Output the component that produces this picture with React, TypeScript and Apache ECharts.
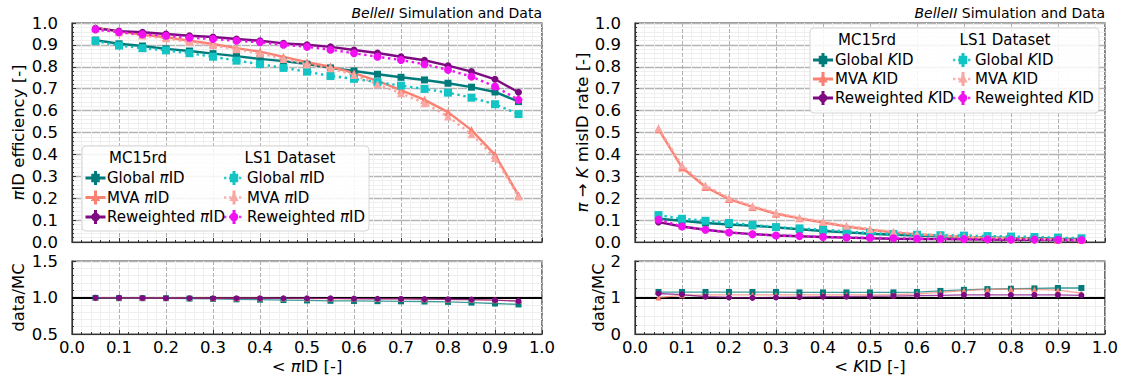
import React, { useEffect, useRef } from "react";
import * as echarts from "echarts";

const FONT = "DejaVu Sans";

const xs = [0.05, 0.1, 0.15, 0.2, 0.25, 0.3, 0.35, 0.4, 0.45, 0.5, 0.55, 0.6, 0.65, 0.7, 0.75, 0.8, 0.85, 0.9, 0.95];
const xTicks = [0, 0.1, 0.2, 0.3, 0.4, 0.5, 0.6, 0.7, 0.8, 0.9, 1.0];

// pi ID efficiency (left panel)
const mcGlobalPi = [0.922, 0.905, 0.895, 0.882, 0.872, 0.86, 0.849, 0.836, 0.826, 0.812, 0.795, 0.781, 0.766, 0.752, 0.74, 0.725, 0.707, 0.685, 0.641];
const dataGlobalPi = [0.918, 0.897, 0.885, 0.875, 0.862, 0.846, 0.828, 0.812, 0.795, 0.778, 0.758, 0.745, 0.73, 0.714, 0.699, 0.682, 0.659, 0.629, 0.584];
const mcMvaPi = [0.979, 0.962, 0.946, 0.935, 0.919, 0.904, 0.885, 0.869, 0.845, 0.821, 0.801, 0.771, 0.736, 0.693, 0.649, 0.593, 0.511, 0.398, 0.213];
const dataMvaPi = [0.976, 0.958, 0.943, 0.93, 0.913, 0.898, 0.88, 0.861, 0.836, 0.81, 0.793, 0.763, 0.72, 0.679, 0.634, 0.573, 0.492, 0.383, 0.208];
const mcRwPi = [0.976, 0.963, 0.958, 0.95, 0.942, 0.936, 0.927, 0.919, 0.907, 0.901, 0.891, 0.877, 0.863, 0.846, 0.83, 0.805, 0.778, 0.743, 0.684];
const dataRwPi = [0.97, 0.958, 0.948, 0.942, 0.933, 0.927, 0.919, 0.912, 0.901, 0.891, 0.878, 0.862, 0.846, 0.831, 0.812, 0.786, 0.755, 0.71, 0.649];

// pi -> K misID rate (right panel)
const mcGlobalK = [0.106, 0.097, 0.087, 0.08, 0.074, 0.067, 0.058, 0.05, 0.044, 0.038, 0.033, 0.029, 0.026, 0.023, 0.021, 0.018, 0.017, 0.015, 0.014];
const dataGlobalK = [0.123, 0.106, 0.097, 0.087, 0.078, 0.068, 0.062, 0.056, 0.048, 0.041, 0.036, 0.033, 0.031, 0.029, 0.027, 0.025, 0.023, 0.02, 0.017];
const mcMvaK = [0.515, 0.34, 0.251, 0.196, 0.16, 0.129, 0.108, 0.089, 0.071, 0.056, 0.044, 0.035, 0.029, 0.023, 0.018, 0.015, 0.014, 0.011, 0.009];
const dataMvaK = [0.52, 0.35, 0.258, 0.201, 0.164, 0.133, 0.111, 0.092, 0.074, 0.059, 0.047, 0.037, 0.03, 0.024, 0.019, 0.016, 0.014, 0.011, 0.009];
const mcRwK = [0.091, 0.071, 0.056, 0.044, 0.036, 0.03, 0.026, 0.023, 0.02, 0.017, 0.015, 0.014, 0.013, 0.012, 0.011, 0.01, 0.01, 0.009, 0.008];
const dataRwK = [0.102, 0.071, 0.056, 0.043, 0.035, 0.03, 0.027, 0.023, 0.02, 0.019, 0.017, 0.015, 0.014, 0.013, 0.012, 0.011, 0.011, 0.01, 0.009];

// data/MC ratios
const ratioGlobalPi = [0.995, 0.99, 0.99, 0.99, 0.985, 0.98, 0.975, 0.97, 0.965, 0.96, 0.955, 0.953, 0.95, 0.948, 0.945, 0.94, 0.93, 0.918, 0.905];
const ratioMvaPi = [0.997, 0.995, 0.995, 0.993, 0.993, 0.99, 0.99, 0.99, 0.988, 0.986, 0.985, 0.983, 0.98, 0.98, 0.977, 0.972, 0.97, 0.963, 0.958];
const ratioRwPi = [0.995, 0.995, 0.993, 0.99, 0.99, 0.99, 0.99, 0.99, 0.99, 0.99, 0.988, 0.985, 0.983, 0.98, 0.978, 0.976, 0.972, 0.963, 0.95];
const ratioGlobalK = [1.15, 1.15, 1.15, 1.15, 1.15, 1.15, 1.14, 1.14, 1.14, 1.14, 1.14, 1.15, 1.18, 1.21, 1.23, 1.24, 1.25, 1.26, 1.26];
const ratioMvaK = [1.0, 1.06, 1.07, 1.07, 1.07, 1.07, 1.07, 1.07, 1.07, 1.07, 1.08, 1.1, 1.14, 1.19, 1.22, 1.23, 1.22, 1.2, 1.12];
const ratioRwK = [1.11, 1.08, 1.02, 1.0, 0.99, 1.0, 1.01, 1.02, 1.02, 1.03, 1.04, 1.05, 1.06, 1.07, 1.07, 1.07, 1.07, 1.07, 1.06];

const C = {
  mcGlobal: "#007b7b",
  dataGlobal: "#13c4c4",
  mcMva: "#fa8072",
  dataMva: "#f8a7a2",
  mcRw: "#7d0a80",
  dataRw: "#f010f0",
};

const pair = (ys: number[]) => xs.map((x, i) => [x, ys[i]]);
const italicRich = (size: number) => ({ i: { fontStyle: "italic", fontSize: size, fontFamily: FONT, color: "#000" } });

function xAxisCfg(gridIndex: number, showLabels: boolean, name: string) {
  return {
    type: "value",
    gridIndex,
    min: xTicks[0],
    max: xTicks[xTicks.length - 1],
    interval: 0.1,
    axisLine: { show: true, lineStyle: { color: "#333", width: 1.2 } },
    axisTick: { show: true, inside: true, length: 4, lineStyle: { color: "#333" } },
    minorTick: { show: true, splitNumber: 5, length: 2, lineStyle: { color: "#333" } },
    splitLine: { show: true, lineStyle: { color: "#b0b0b0", type: [4, 2], width: 1 } },
    minorSplitLine: { show: true, lineStyle: { color: "#efefef", width: 1 } },
    axisLabel: {
      show: showLabels,
      formatter: (v: number) => v.toFixed(1),
      fontSize: 16.5,
      color: "#000",
      fontFamily: FONT,
      margin: 5,
    },
    name: showLabels ? name : "",
    nameLocation: "middle",
    nameGap: 24,
    nameTextStyle: { fontSize: 16.5, color: "#000", fontFamily: FONT, rich: italicRich(16.5) },
  };
}

function yAxisCfg(gridIndex: number, min: number, max: number, interval: number, minorSplit: number, fmt: (v: number) => string, name: string, nameGap: number) {
  return {
    type: "value",
    gridIndex,
    min,
    max,
    interval,
    axisLine: { show: true, lineStyle: { color: "#333", width: 1.2 } },
    axisTick: { show: true, inside: true, length: 4, lineStyle: { color: "#333" } },
    minorTick: { show: true, splitNumber: minorSplit, length: 2, lineStyle: { color: "#333" } },
    splitLine: { show: true, lineStyle: { color: "#b4b4b4", width: 1.4 } },
    minorSplitLine: { show: true, lineStyle: { color: "#efefef", width: 1 } },
    axisLabel: { formatter: fmt, fontSize: 16.5, color: "#000", fontFamily: FONT, margin: 14 },
    name,
    nameLocation: "middle",
    nameGap,
    nameRotate: 90,
    nameTextStyle: { fontSize: 16.5, color: "#000", fontFamily: FONT, rich: italicRich(16.5) },
  };
}

function mainSeries(name: string, axis: number, ys: number[], color: string, symbol: string, size: number, dotted: boolean) {
  return {
    type: "line",
    name,
    xAxisIndex: axis,
    yAxisIndex: axis,
    data: pair(ys),
    symbol,
    symbolSize: size,
    showSymbol: true,
    itemStyle: { color },
    lineStyle: { color, width: 2.4, type: dotted ? [2.4, 3.6] : "solid" },
    z: dotted ? 4 : 3,
    silent: true,
  };
}

function ratioSeries(name: string, axis: number, ys: number[], color: string, symbol: string, withRef: boolean) {
  const s: any = {
    type: "line",
    name,
    xAxisIndex: axis,
    yAxisIndex: axis,
    data: pair(ys),
    symbol,
    symbolSize: 6,
    itemStyle: { color },
    lineStyle: { color, width: 1.3, opacity: 0.75 },
    z: 4,
    silent: true,
  };
  if (withRef) {
    s.markLine = {
      silent: true,
      symbol: "none",
      label: { show: false },
      lineStyle: { color: "#000", width: 2, type: "solid" },
      data: [{ yAxis: 1 }],
      z: 3,
    };
  }
  return s;
}

const ZL = 200;

function marker(kind: string, cx: number, cy: number, color: string, s: number) {
  if (kind === "rect") return { type: "rect", z: ZL + 2, shape: { x: cx - s / 2, y: cy - s / 2, width: s, height: s }, style: { fill: color } };
  if (kind === "circle") return { type: "circle", z: ZL + 2, shape: { cx, cy, r: s / 2 }, style: { fill: color } };
  return {
    type: "polygon",
    z: ZL + 2,
    shape: { points: [[cx, cy - s * 0.6], [cx - s * 0.55, cy + s * 0.4], [cx + s * 0.55, cy + s * 0.4]] },
    style: { fill: color },
  };
}

function legendIcon(cx: number, cy: number, color: string, kind: string, dotted: boolean) {
  const els: any[] = [];
  els.push({
    type: "line",
    z: ZL + 1,
    shape: { x1: cx - 10, y1: cy, x2: cx + 10, y2: cy },
    style: { stroke: color, lineWidth: dotted ? 2.4 : 3, lineDash: dotted ? [2.4, 2.6] : null, opacity: dotted ? 0.85 : 1 },
  });
  els.push({ type: "line", z: ZL + 1, shape: { x1: cx, y1: cy - 7, x2: cx, y2: cy + 7 }, style: { stroke: color, lineWidth: 3 } });
  els.push(marker(kind, cx, cy, color, 8.5));
  return els;
}

function legend(box: number[], headerY: number, headerX: number[], rowY: number[], iconX: number[], textX: number[], tag: string) {
  const els: any[] = [];
  els.push({
    type: "rect",
    z: ZL,
    shape: { x: box[0], y: box[1], width: box[2], height: box[3], r: 4 },
    style: { fill: "rgba(255,255,255,0.85)", stroke: "#d6d6d6", lineWidth: 1 },
  });
  const txt = (x: number, y: number, text: string, align: string) => ({
    type: "text",
    z: ZL + 3,
    x,
    y,
    style: { text, fontSize: 15, fontFamily: FONT, fill: "#000", align, verticalAlign: "middle", rich: { i: { fontStyle: "italic", fontSize: 15, fontFamily: FONT, fill: "#000" } } },
  });
  els.push(txt(headerX[0], headerY, "MC15rd", "center"));
  els.push(txt(headerX[1], headerY, "LS1 Dataset", "center"));
  const rows = [
    ["Global", C.mcGlobal, C.dataGlobal, "rect"],
    ["MVA", C.mcMva, C.dataMva, "triangle"],
    ["Reweighted", C.mcRw, C.dataRw, "circle"],
  ];
  rows.forEach((r, i) => {
    const y = rowY[i];
    els.push(...legendIcon(iconX[0], y, r[1], r[3], false));
    els.push(txt(textX[0], y, `${r[0]} {i|${tag}}ID`, "left"));
    els.push(...legendIcon(iconX[1], y, r[2], r[3], true));
    els.push(txt(textX[1], y, `${r[0]} {i|${tag}}ID`, "left"));
  });
  return els;
}

const fmt1 = (v: number) => v.toFixed(1);
const fmt0 = (v: number) => String(Math.round(v));

export default function App() {
  const ref = useRef<HTMLDivElement>(null);
  useEffect(() => {
    document.body.style.margin = "0";
    const chart = echarts.init(ref.current!, null, { renderer: "svg" });
    const gridBase = { show: true, borderColor: "#333", borderWidth: 1.2, backgroundColor: "#fff" };
    const titleStyle = {
      text: "{i|BelleII} Simulation and Data",
      fontSize: 14,
      fontFamily: FONT,
      fill: "#000",
      align: "right",
      verticalAlign: "middle",
      rich: { i: { fontStyle: "italic", fontSize: 14, fontFamily: FONT, fill: "#000" } },
    };
    const option: any = {
      animation: false,
      backgroundColor: "#fff",
      textStyle: { fontFamily: FONT },
      grid: [
        { ...gridBase, left: 72, top: 23, width: 470, height: 219 },
        { ...gridBase, left: 72, top: 261, width: 470, height: 73 },
        { ...gridBase, left: 635, top: 23, width: 470, height: 219 },
        { ...gridBase, left: 635, top: 261, width: 470, height: 73 },
      ],
      xAxis: [
        xAxisCfg(0, false, ""),
        xAxisCfg(1, true, "< {i|π}ID [-]"),
        xAxisCfg(2, false, ""),
        xAxisCfg(3, true, "< {i|K}ID [-]"),
      ],
      yAxis: [
        yAxisCfg(0, 0, 1, 0.1, 5, fmt1, "{i|π}ID efficiency [-]", 45),
        yAxisCfg(1, 0.5, 1.5, 0.5, 5, fmt1, "data/MC", 45),
        yAxisCfg(2, 0, 1, 0.1, 5, fmt1, "{i|π} → {i|K} misID rate [-]", 43),
        yAxisCfg(3, 0, 2, 1, 4, fmt0, "data/MC", 28),
      ],
      series: [
        mainSeries("MC15rd Global πID", 0, mcGlobalPi, C.mcGlobal, "rect", 7, false),
        mainSeries("MC15rd MVA πID", 0, mcMvaPi, C.mcMva, "triangle", 8, false),
        mainSeries("MC15rd Reweighted πID", 0, mcRwPi, C.mcRw, "circle", 7, false),
        mainSeries("LS1 Global πID", 0, dataGlobalPi, C.dataGlobal, "rect", 8, true),
        mainSeries("LS1 MVA πID", 0, dataMvaPi, C.dataMva, "triangle", 8, true),
        mainSeries("LS1 Reweighted πID", 0, dataRwPi, C.dataRw, "circle", 8, true),
        ratioSeries("ratio Global πID", 1, ratioGlobalPi, C.mcGlobal, "rect", true),
        ratioSeries("ratio MVA πID", 1, ratioMvaPi, C.mcMva, "triangle", false),
        ratioSeries("ratio Reweighted πID", 1, ratioRwPi, C.mcRw, "circle", false),
        mainSeries("MC15rd Global KID", 2, mcGlobalK, C.mcGlobal, "rect", 7, false),
        mainSeries("MC15rd MVA KID", 2, mcMvaK, C.mcMva, "triangle", 8, false),
        mainSeries("MC15rd Reweighted KID", 2, mcRwK, C.mcRw, "circle", 7, false),
        mainSeries("LS1 Global KID", 2, dataGlobalK, C.dataGlobal, "rect", 8, true),
        mainSeries("LS1 MVA KID", 2, dataMvaK, C.dataMva, "triangle", 8, true),
        mainSeries("LS1 Reweighted KID", 2, dataRwK, C.dataRw, "circle", 8, true),
        ratioSeries("ratio Global KID", 3, ratioGlobalK, C.mcGlobal, "rect", true),
        ratioSeries("ratio MVA KID", 3, ratioMvaK, C.mcMva, "triangle", false),
        ratioSeries("ratio Reweighted KID", 3, ratioRwK, C.mcRw, "circle", false),
      ],
      graphic: [
        { type: "text", z: ZL, x: 542, y: 13, style: titleStyle },
        { type: "text", z: ZL, x: 1105, y: 13, style: titleStyle },
        ...legend([82, 146, 287, 85], 158, [138, 290], [178, 197.5, 217], [95.5, 234], [107, 247], "π"),
        ...legend([810, 28, 289, 85], 40, [867, 1005], [60, 79, 98], [823, 963], [835, 975], "K"),
      ],
    };
    chart.setOption(option);
    return () => chart.dispose();
  }, []);
  return <div ref={ref} style={{ width: 1121, height: 380 }} />;
}
